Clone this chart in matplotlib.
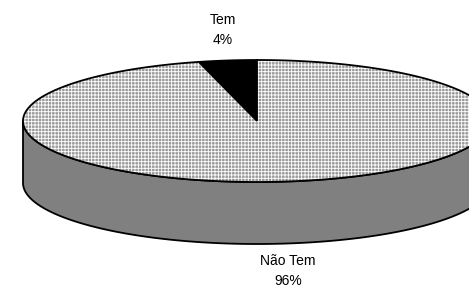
import matplotlib
matplotlib.use('Agg')
import matplotlib.pyplot as plt
from matplotlib.patches import Polygon
import numpy as np

labels = ['Tem', 'Não Tem']
values = [4, 96]
pct_labels = ['4%', '96%']

plt.rcParams['font.family'] = ['Liberation Sans', 'DejaVu Sans']
plt.rcParams['hatch.linewidth'] = 0.6

W, H = 469, 288
fig = plt.figure(figsize=(W / 100, H / 100), dpi=100)
ax = fig.add_axes([0, 0, 1, 1])
ax.set_xlim(0, W)
ax.set_ylim(H, 0)
ax.axis('off')

# pie geometry in pixels
cx, cy = 257, 121
a, b = 234, 61
depth = 62

def pt(th, dy=0):
    t = np.radians(th)
    return np.column_stack([cx + a * np.cos(t), cy - b * np.sin(t) + dy])

# side wall (front half)
th = np.linspace(180, 360, 200)
side = np.vstack([pt(th), pt(th[::-1], depth)])
ax.add_patch(Polygon(side, closed=True, facecolor='#808080', edgecolor='black', lw=1.3))

# top wedges, starting at 12 o'clock, counterclockwise
total = sum(values)
start = 90
for i, v in enumerate(values):
    ext = 360 * v / total
    th = np.linspace(start, start + ext, max(int(ext * 2), 10))
    poly = np.vstack([[cx, cy], pt(th)])
    if i == 0:
        ax.add_patch(Polygon(poly, closed=True, facecolor='black', edgecolor='black', lw=1.3))
    else:
        ax.add_patch(Polygon(poly, closed=True, facecolor='#9a9a9a', edgecolor='white',
                             hatch='+++++', lw=0))
        ax.add_patch(Polygon(poly, closed=True, fill=False, edgecolor='black', lw=1.3))
    start += ext

# labels
pos = [(223, 30), (288, 271)]
for lab, pc, (x, y) in zip(labels, pct_labels, pos):
    ax.text(x, y, lab + '\n' + pc, ha='center', va='center', fontsize=10, linespacing=1.5)

fig.savefig('out.png', dpi=100)
